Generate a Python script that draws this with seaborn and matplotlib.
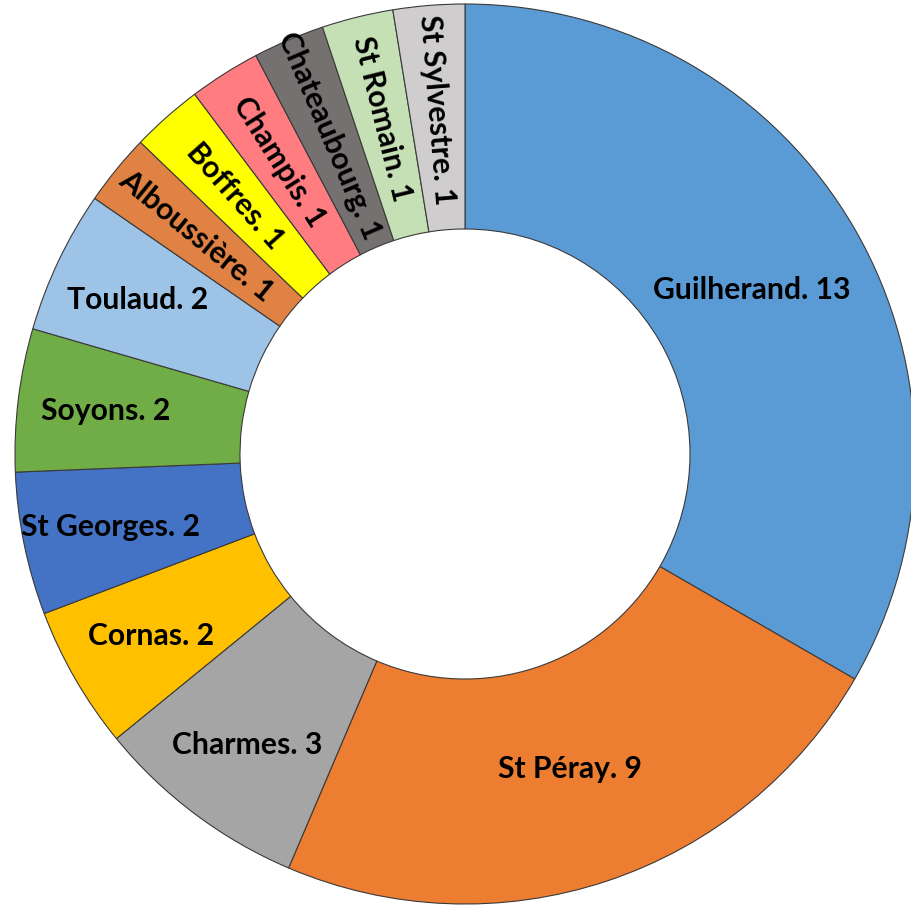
import numpy as np
import matplotlib
matplotlib.use("Agg")
import matplotlib.pyplot as plt
import seaborn as sns

# data
communes = ["Guilherand", "St Péray", "Charmes", "Cornas", "St Georges", "Soyons",
            "Toulaud", "Alboussière", "Boffres", "Champis", "Chateaubourg",
            "St Romain", "St Sylvestre"]
counts = [13, 9, 3, 2, 2, 2, 2, 1, 1, 1, 1, 1, 1]
colors = ["#5B9BD5", "#ED7D31", "#A5A5A5", "#FFC000", "#4472C4", "#70AD47",
          "#9DC3E6", "#DF8244", "#FFFF00", "#FF7C80", "#767171", "#C5E0B4", "#CFCDCD"]

sns.set_theme(style="white")
plt.rcParams['font.family'] = ['Lato', 'DejaVu Sans']

fig = plt.figure(figsize=(9.12, 9.12), dpi=100)
ax = fig.add_axes([0, 0, 1, 1])

wedges, _ = ax.pie(counts, colors=colors, startangle=90, counterclock=False,
                   radius=1.0, wedgeprops=dict(width=0.5, edgecolor="#3a3a3a", linewidth=0.8))

for w, name, n in zip(wedges, communes, counts):
    mid = (w.theta1 + w.theta2) / 2
    if n >= 9:
        r = 0.735
    elif n == 1:
        r = 0.77
    else:
        r = 0.805
    x = r * np.cos(np.radians(mid))
    y = r * np.sin(np.radians(mid))
    rot = mid - 180 if n == 1 else 0
    ax.text(x, y, f"{name}. {n}", ha="center", va="center", rotation=rot,
            rotation_mode="anchor", fontsize=21.7, fontweight="bold", color="black")

# center at pixel (465, 455), radius 450 px
ax.set_xlim(-465 / 450, (912 - 465) / 450)
ax.set_ylim(-(912 - 455) / 450, 455 / 450)
ax.set_aspect("equal")
ax.axis("off")

fig.savefig("out.png", dpi=100)
